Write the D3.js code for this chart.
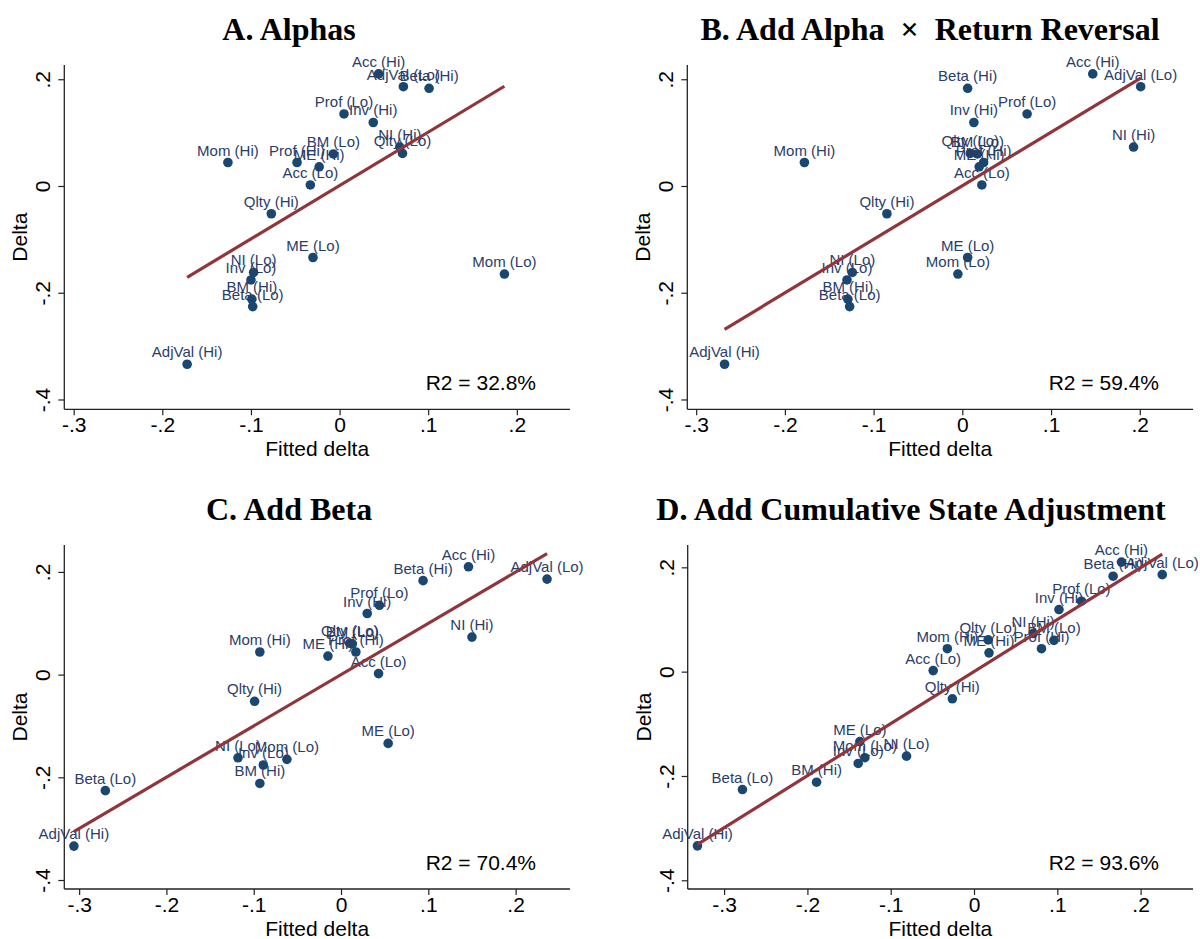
<!DOCTYPE html>
<html>
<head>
<meta charset="utf-8">
<script src="https://cdn.jsdelivr.net/npm/d3@7/dist/d3.min.js"></script>
<style>
  body { margin: 0; background: #fff; }
  svg { display: block; }
</style>
</head>
<body>
<svg id="chart" width="1200" height="939"></svg>
<script>
// portfolio names (same order in every array below)
var names = ["Acc (Hi)","Acc (Lo)","AdjVal (Hi)","AdjVal (Lo)","Beta (Hi)","Beta (Lo)",
  "BM (Hi)","BM (Lo)","Inv (Hi)","Inv (Lo)","ME (Hi)","ME (Lo)","Mom (Hi)","Mom (Lo)",
  "NI (Hi)","NI (Lo)","Prof (Hi)","Prof (Lo)","Qlty (Hi)","Qlty (Lo)"];

// y: delta
var delta = [0.210,0.002,-0.334,0.186,0.183,-0.226,-0.212,0.060,0.119,-0.176,
  0.036,-0.134,0.044,-0.165,0.073,-0.162,0.044,0.135,-0.052,0.061];

// x: fitted delta per panel
var fitA = [0.044,-0.033,-0.172,0.072,0.101,-0.098,-0.099,-0.007,0.038,-0.100,
  -0.023,-0.030,-0.126,0.186,0.068,-0.097,-0.048,0.005,-0.077,0.071];
var fitB = [0.147,0.022,-0.268,0.201,0.006,-0.127,-0.129,0.017,0.013,-0.130,
  0.019,0.006,-0.178,-0.005,0.193,-0.124,0.024,0.073,-0.085,0.009];
var fitC = [0.146,0.043,-0.306,0.236,0.094,-0.270,-0.093,0.013,0.030,-0.089,
  -0.015,0.054,-0.093,-0.062,0.150,-0.118,0.017,0.044,-0.099,0.010];
var fitD = [0.177,-0.049,-0.332,0.226,0.167,-0.278,-0.189,0.096,0.102,-0.139,
  0.018,-0.137,-0.032,-0.131,0.071,-0.081,0.081,0.129,-0.026,0.017];

var titles = ["A. Alphas","B. Add Alpha\u2002\u00d7\u2002Return Reversal","C. Add Beta","D. Add Cumulative State Adjustment"];
var r2Labels = ["R2 = 32.8%","R2 = 59.4%","R2 = 70.4%","R2 = 93.6%"];
var xTicks = [-0.3,-0.2,-0.1,0,0.1,0.2];
var yTicks = [-0.4,-0.2,0,0.2];

// axis ranges per panel
var xDomains = [[-0.3106,0.260],[-0.310,0.260],[-0.317,0.2623],[-0.3437,0.2629]];
var yDomains = [[-0.4184,0.2267],[-0.4184,0.2267],[-0.4175,0.2524],[-0.4167,0.2428]];

var fits = [fitA,fitB,fitC,fitD];

// plot boxes (pixels)
var boxes = [
  {x0:64.3, x1:570, y0:65,  y1:409.3, tx:289},
  {x0:687.3,x1:1193,y0:65,  y1:409.3, tx:930},
  {x0:64.3, x1:570, y0:545, y1:889,   tx:289},
  {x0:687.7,x1:1193,y0:545, y1:889,   tx:911}
];

var navy = "#1a476f", maroon = "#90353b";
var tickFmt = function(d){
  if (Math.abs(d) < 1e-9) return "0";
  return d3.format(".1f")(d).replace("0.", ".").replace("\u2212", "-");
};

var svg = d3.select("#chart");

function drawPanel(i){
  var b = boxes[i];
  var fit = fits[i];
  var pts = names.map(function(n,j){ return {name:n, x:fit[j], y:delta[j]}; });

  var x = d3.scaleLinear().domain(xDomains[i]).range([b.x0,b.x1]);
  var y = d3.scaleLinear().domain(yDomains[i]).range([b.y1,b.y0]);

  var g = svg.append("g");

  // title
  g.append("text")
    .attr("x", b.tx).attr("y", b.y0 - 25)
    .attr("text-anchor","middle")
    .attr("font-family","'Liberation Serif','Times New Roman',serif")
    .attr("font-weight","bold")
    .attr("font-size",32)
    .text(titles[i]);

  // axes
  var xAxis = d3.axisBottom(x).tickValues(xTicks).tickFormat(tickFmt).tickSize(6).tickPadding(3);
  var yAxis = d3.axisLeft(y).tickValues(yTicks).tickFormat(tickFmt).tickSize(6);

  var gx = g.append("g").attr("transform","translate(0," + b.y1 + ")").call(xAxis);
  gx.select(".domain").attr("d","M" + b.x0 + ",0H" + b.x1);
  var gy = g.append("g").attr("transform","translate(" + b.x0 + ",0)").call(yAxis);
  gy.select(".domain").attr("d","M0," + b.y0 + "V" + b.y1);

  [gx,gy].forEach(function(a){
    a.selectAll(".domain").attr("stroke","#222").attr("stroke-width",1.3);
    a.selectAll(".tick line").attr("stroke","#222").attr("stroke-width",1.2);
    a.selectAll("text")
      .attr("font-family","'Liberation Sans',Arial,sans-serif")
      .attr("font-size",21).attr("fill","#000");
  });
  gx.selectAll(".tick text").attr("dy",null).attr("y",23);
  gy.selectAll(".tick text")
    .attr("x",null).attr("dy",null)
    .attr("text-anchor","middle")
    .attr("transform","translate(-14,0) rotate(-90)");

  // axis titles
  g.append("text")
    .attr("x",(b.x0 + b.x1)/2).attr("y",b.y1 + 47)
    .attr("text-anchor","middle")
    .attr("font-family","'Liberation Sans',Arial,sans-serif")
    .attr("font-size",21)
    .text("Fitted delta");
  g.append("text")
    .attr("transform","translate(" + (b.x0 - 37) + "," + ((b.y0 + b.y1)/2) + ") rotate(-90)")
    .attr("text-anchor","middle")
    .attr("font-family","'Liberation Sans',Arial,sans-serif")
    .attr("font-size",21)
    .text("Delta");

  // points
  g.selectAll(".dot").data(pts).enter().append("circle")
    .attr("class","dot")
    .attr("cx",function(d){ return x(d.x); })
    .attr("cy",function(d){ return y(d.y); })
    .attr("r",4.8)
    .attr("fill",navy);

  g.selectAll(".lab").data(pts).enter().append("text")
    .attr("class","lab")
    .attr("x",function(d){ return x(d.x); })
    .attr("y",function(d){ return y(d.y) - 7; })
    .attr("text-anchor","middle")
    .attr("font-family","'Liberation Sans',Arial,sans-serif")
    .attr("font-size",15)
    .attr("fill","#2a3d68")
    .text(function(d){ return d.name; });

  // OLS fit line
  var mx = d3.mean(pts,function(d){ return d.x; });
  var my = d3.mean(pts,function(d){ return d.y; });
  var sxy = d3.sum(pts,function(d){ return (d.x-mx)*(d.y-my); });
  var sxx = d3.sum(pts,function(d){ return (d.x-mx)*(d.x-mx); });
  var slope = sxy/sxx, icpt = my - slope*mx;
  var ext = d3.extent(pts,function(d){ return d.x; });
  var line = d3.line().x(function(d){ return x(d); }).y(function(d){ return y(icpt + slope*d); });
  g.append("path")
    .datum(ext)
    .attr("d",line)
    .attr("fill","none")
    .attr("stroke",maroon)
    .attr("stroke-width",3.2);

  // R2 note
  g.append("text")
    .attr("x",b.x1 - 34).attr("y",b.y1 - 19)
    .attr("text-anchor","end")
    .attr("font-family","'Liberation Sans',Arial,sans-serif")
    .attr("font-size",21)
    .text(r2Labels[i]);
}

for (var i = 0; i < 4; i++) drawPanel(i);
</script>
</body>
</html>
